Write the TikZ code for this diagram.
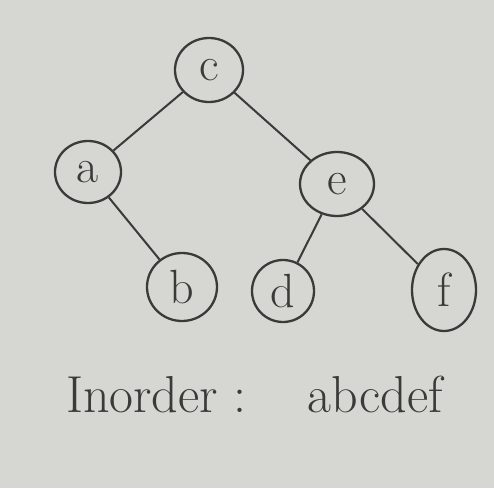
\documentclass[tikz,border=0pt]{standalone}
\usetikzlibrary{shapes.geometric}
\definecolor{paper}{HTML}{D6D7D2}
\definecolor{ink}{HTML}{3A3A38}
\tikzset{
  treenode/.style={ellipse, draw=ink, line width=2.3pt, inner sep=0pt, text=ink,
    font=\fontsize{48}{56}\selectfont},
  edge/.style={draw=ink, line width=2pt},
  notetext/.style={text=ink, inner sep=0pt, anchor=base, font=\fontsize{52}{60}\selectfont}
}
\begin{document}
\begin{tikzpicture}[x=1pt,y=1pt]
\fill[paper] (0,0) rectangle (494,488);
\useasboundingbox (0,0) rectangle (494,488);
\node[treenode, minimum width=68pt, minimum height=64pt] (c) at (209,418) {c};
\node[treenode, minimum width=66pt, minimum height=62pt] (a) at (88,316) {a};
\node[treenode, minimum width=74pt, minimum height=64pt] (e) at (337,304) {e};
\node[treenode, minimum width=70pt, minimum height=68pt] (b) at (182,201) {b};
\node[treenode, minimum width=62pt, minimum height=62pt] (d) at (283,197) {d};
\node[treenode, minimum width=64pt, minimum height=82pt] (f) at (444,198) {f};
\draw[edge] (c) -- (a);
\draw[edge] (c) -- (e);
\draw[edge] (a) -- (b);
\draw[edge] (e) -- (d);
\draw[edge] (e) -- (f);
\node[notetext] (lbl) at (142,76) {Inorder};
\node[notetext] (colon) at (240,76) {:};
\node[notetext] (seq) at (375,76) {abcdef};
\end{tikzpicture}
\end{document}
